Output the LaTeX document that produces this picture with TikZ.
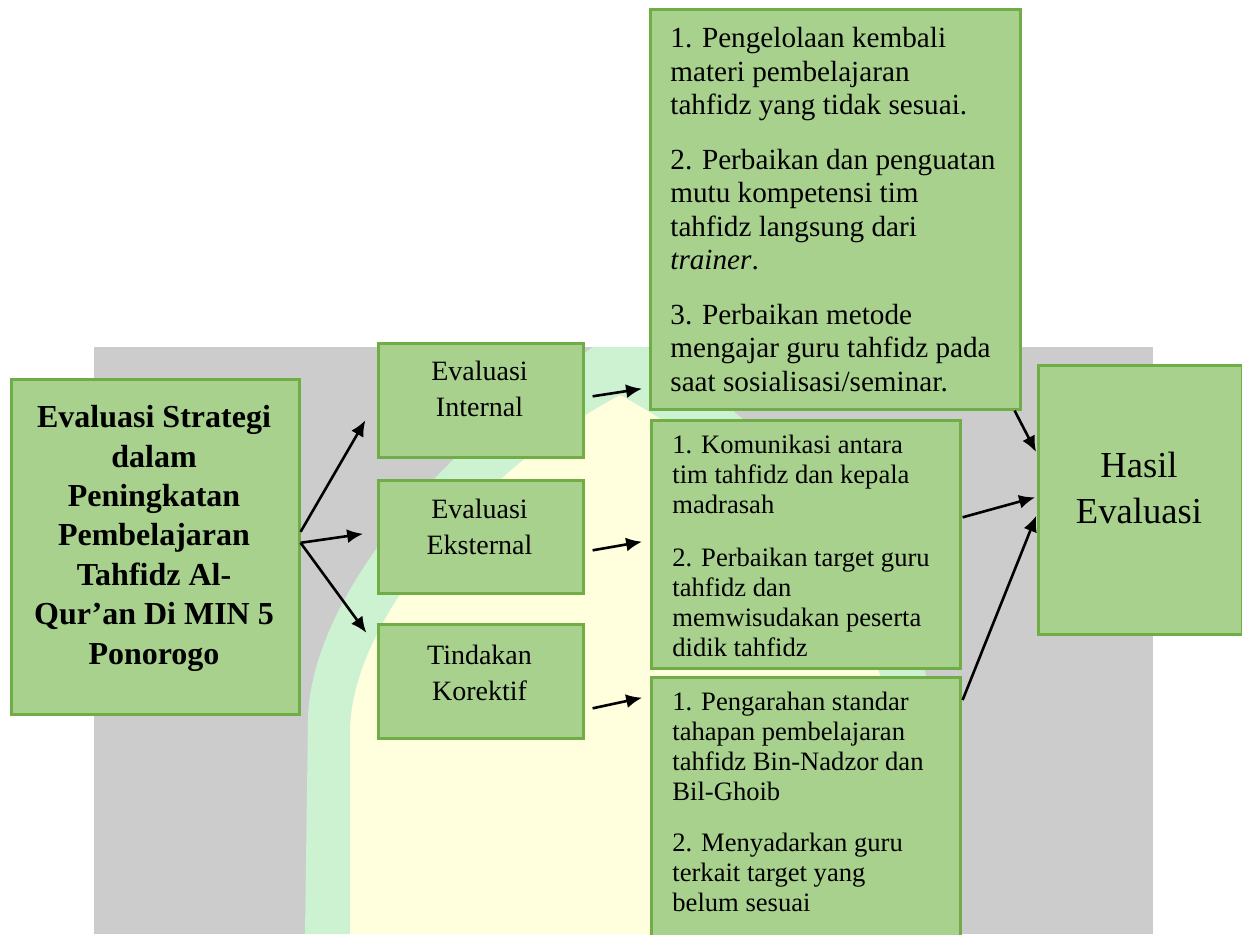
\documentclass[tikz,border=0pt]{standalone}
\usepackage{fontspec}
\setmainfont{Liberation Serif}
\usepackage{tikz}
\usepackage{xcolor}
\usetikzlibrary{arrows.meta,calc}

\definecolor{hijauisi}{RGB}{169,209,142}
\definecolor{hijautepi}{RGB}{112,173,71}
\definecolor{abu}{RGB}{204,204,204}
\definecolor{wmhijau}{RGB}{204,242,210}
\definecolor{wmkuning}{RGB}{255,255,222}

\begin{document}
\begin{tikzpicture}[x=0.5pt,y=-0.5pt,
  kotak/.style={draw=hijautepi, fill=hijauisi, line width=1.3pt, anchor=north west, inner sep=0pt},
  judul/.style={anchor=north, align=center, inner sep=0pt},
  isi/.style={anchor=north west, align=left, inner sep=0pt},
  panah/.style={-{Latex[length=8pt,width=7pt]}, line width=1.3pt}]

  \path[use as bounding box, clip] (0,0) rectangle (1242,934);

  % latar abu-abu dengan watermark
  \begin{scope}
    \clip (94,347) rectangle (1153,934);
    \fill[abu] (94,347) rectangle (1153,934);
    \fill[wmhijau] (305,934) -- (308,720) .. controls (310,600) and (440,440) .. (620,330)
      .. controls (800,440) and (930,600) .. (932,720) -- (935,934) -- cycle;
    \fill[wmkuning] (350,934) -- (350,730) .. controls (352,620) and (480,470) .. (620,395)
      .. controls (760,470) and (888,620) .. (890,730) -- (890,934) -- cycle;
  \end{scope}

  \node[kotak, minimum width=144pt, minimum height=167.5pt] (utama) at (10,378) {};
  \node[judul, font=\fontsize{16}{19.7}\selectfont\bfseries] (utamaT) at (154,405)
    {Evaluasi Strategi\\ dalam\\ Peningkatan\\ Pembelajaran\\ Tahfidz Al-\\ Qur’an Di MIN 5\\ Ponorogo};

  \node[kotak, minimum width=102.5pt, minimum height=57pt] (internal) at (377,342) {};
  \node[judul, font=\fontsize{14}{18}\selectfont] (internalT) at (479.5,361) {Evaluasi\\ Internal};

  \node[kotak, minimum width=102.5pt, minimum height=56.5pt] (eksternal) at (377,479) {};
  \node[judul, font=\fontsize{14}{18}\selectfont] (eksternalT) at (479.5,499) {Evaluasi\\ Eksternal};

  \node[kotak, minimum width=102.5pt, minimum height=57pt] (korektif) at (377,623) {};
  \node[judul, font=\fontsize{14}{18}\selectfont] (korektifT) at (479.5,645) {Tindakan\\ Korektif};

  \node[kotak, minimum width=185pt, minimum height=200pt] (tindak1) at (649,8) {};
  \node[isi, font=\fontsize{14.6}{16.75}\selectfont] (tindak1T) at (670,27)
    {1. Pengelolaan kembali\\ materi pembelajaran\\ tahfidz yang tidak sesuai.\\[10.5pt]
     2. Perbaikan dan penguatan\\ mutu kompetensi tim\\ tahfidz langsung dari\\ \textit{trainer}.\\[10.5pt]
     3. Perbaikan metode\\ mengajar guru tahfidz pada\\ saat sosialisasi/seminar.};

  \node[kotak, minimum width=154.5pt, minimum height=124pt] (tindak2) at (650,419) {};
  \node[isi, font=\fontsize{13.3}{15}\selectfont] (tindak2T) at (672,435)
    {1. Komunikasi antara\\ tim tahfidz dan kepala\\ madrasah\\[11.5pt]
     2. Perbaikan target guru\\ tahfidz dan\\ memwisudakan peserta\\ didik tahfidz};

  \node[kotak, minimum width=154.5pt, minimum height=137pt] (tindak3) at (650,676) {};
  \node[isi, font=\fontsize{13.3}{15}\selectfont] (tindak3T) at (672,692)
    {1. Pengarahan standar\\ tahapan pembelajaran\\ tahfidz Bin-Nadzor dan\\ Bil-Ghoib\\[10.5pt]
     2. Menyadarkan guru\\ terkait target yang\\ belum sesuai};

  \node[kotak, minimum width=102pt, minimum height=134.5pt] (hasil) at (1037,364) {};
  \node[judul, font=\fontsize{18.3}{23}\selectfont] (hasilT) at (1139,452) {Hasil\\ Evaluasi};

  \draw[panah, shorten >=11.5pt] ($(utama.east)+(0,-15)$) -- (internal.west);
  \draw[panah, shorten >=7pt] ($(utama.east)+(0,-4)$) -- ($(eksternal.west)+(0,-5)$);
  \draw[panah, shorten >=9pt] ($(utama.east)+(0,-4)$) -- ($(korektif.west)+(0,-34)$);

  \draw[panah, shorten >=3.5pt] ($(internal.east)+(8,-4)$) -- ($(tindak1.south west)+(0,-23)$);
  \draw[panah, shorten >=4pt] ($(eksternal.east)+(8,13.5)$) -- ($(tindak2.west)+(0,-4)$);
  \draw[panah, shorten >=4pt] ($(korektif.east)+(8,27)$) -- ($(tindak3.north west)+(0,20)$);

  \draw[panah, shorten >=1pt] ($(tindak1.south east)+(-7,0)$) -- ($(hasil.west)+(0,-46)$);
  \draw[panah, shorten >=1pt] ($(tindak2.east)+(1,-27)$) -- ($(hasil.west)+(0,-3)$);
  \draw[panah, shorten >=1pt] ($(tindak3.north east)+(1,24)$) -- ($(hasil.west)+(0,14)$);
\end{tikzpicture}
\end{document}
